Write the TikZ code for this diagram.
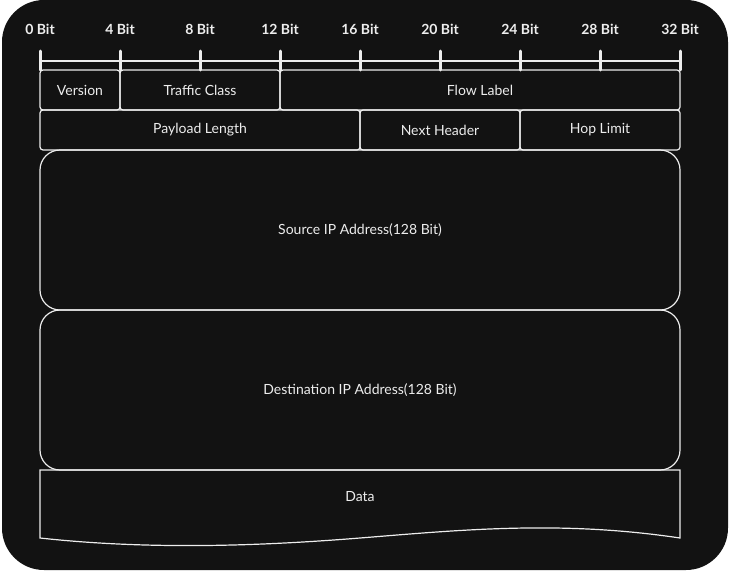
\documentclass[tikz,border=0pt]{standalone}
\usepackage{fontspec}
\setmainfont{Lato}
\definecolor{board}{HTML}{121212}
\definecolor{ink}{HTML}{EDEDED}
\newcommand{\bitw}{20}
\newcommand{\xo}{40}
\newcommand{\rulery}{61}

\begin{document}
\begin{tikzpicture}[x=1pt,y=-1pt,
	field/.style={draw=ink,line width=1.2pt,rounded corners=3pt,minimum height=40pt,inner sep=0pt,outer sep=0pt,anchor=north west,text=ink,font=\fontsize{14}{16}\selectfont},
	bigfield/.style={field,rounded corners=20pt,minimum height=160pt,minimum width=640pt},
	bitlabel/.style={text=ink,font=\fontsize{14}{16}\selectfont\bfseries}]
	\useasboundingbox (0,0) rectangle (730,570);
	%The dark board
	\fill[white] (0,0) rectangle (730,570);
	\fill[board,rounded corners=42pt] (2,0) rectangle (728,570);
	%The bit ruler
	\draw[ink,line width=2.6pt] (\xo,\rulery) -- (\xo+32*\bitw,\rulery);
	\foreach \n in {0,4,...,32}{
		\node[bitlabel] (bit\n) at (\xo+\n*\bitw,29) {\n{} Bit};
		\draw[ink,line width=3pt,line cap=round] (\xo+\n*\bitw,51) -- (\xo+\n*\bitw,70);
	}
	%First row
	\node[field,minimum width=80pt] (version) at (\xo,70) {Version};
	\node[field,minimum width=160pt] (traffic) at (version.north east) {Traffic Class};
	\node[field,minimum width=400pt] (flow) at (traffic.north east) {Flow Label};
	%Second row
	\node[field,minimum width=320pt] (payload) at (version.south west) {Payload Length};
	\node[field,minimum width=160pt] (next) at (payload.north east) {Next Header};
	\node[field,minimum width=160pt] (hop) at (next.north east) {Hop Limit};
	%The addresses
	\node[bigfield] (source) at (payload.south west) {Source IP Address(128 Bit)};
	\node[bigfield] (dest) at (source.south west) {Destination IP Address(128 Bit)};
	%The data block with its wavy bottom
	\draw[ink,line width=1.2pt] (dest.south west) -- (dest.south east) -- (680,538) .. controls (560,520) and (460,530) .. (360,538) .. controls (260,546) and (150,550) .. (40,538) -- cycle;
	\node[text=ink,font=\fontsize{14}{16}\selectfont] (data) at (360,497) {Data};
\end{tikzpicture}
\end{document}
